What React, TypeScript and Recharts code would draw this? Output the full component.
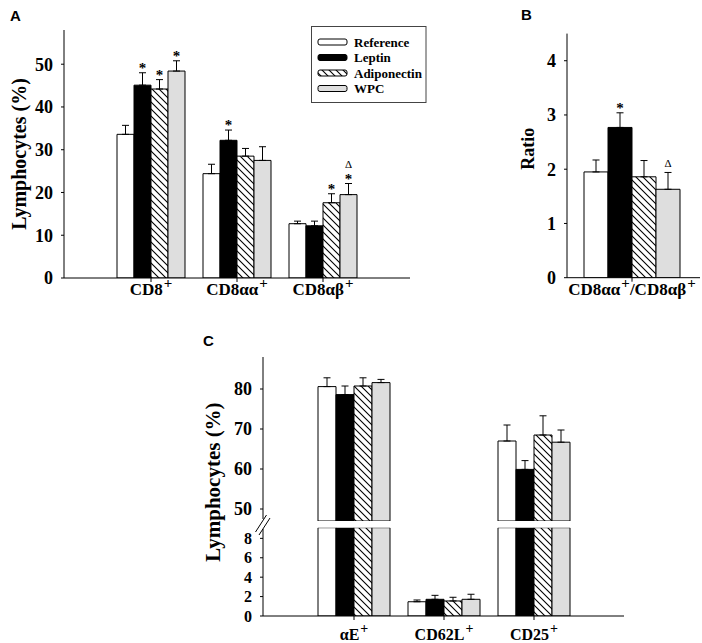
import { Fragment } from "react";
import { BarChart, Bar, XAxis, YAxis, ErrorBar, Rectangle, Label } from "recharts";

const SERIF = '"Liberation Serif", "Times New Roman", serif';
const SANS = '"Liberation Sans", Arial, sans-serif';

const seriesNames = ["Reference", "Leptin", "Adiponectin", "WPC"];
const seriesKeys = ["ref", "lep", "adi", "wpc"];
const seriesFills = ["#ffffff", "#000000", "url(#hatch)", "#dedede"];

// Panel A - CD8 subsets, % of lymphocytes
const categoriesA = ["CD8", "CD8αα", "CD8αβ"];
const referenceA = [33.6, 24.4, 12.7];
const leptinA = [45.1, 32.2, 12.2];
const adiponectinA = [44.2, 28.5, 17.6];
const wpcA = [48.4, 27.5, 19.5];
const referenceErrA = [2.1, 2.2, 0.6];
const leptinErrA = [2.9, 2.4, 1.1];
const adiponectinErrA = [2.2, 1.8, 2.1];
const wpcErrA = [2.4, 3.2, 2.6];
const leptinMarksA = ["*", "*", ""];
const adiponectinMarksA = ["*", "", "*"];
const wpcMarksA = ["*", "", "*Δ"];
const ticksA = [0, 10, 20, 30, 40, 50];

// Panel B - ratio
const categoriesB = ["CD8αα/CD8αβ"];
const referenceB = [1.95];
const leptinB = [2.77];
const adiponectinB = [1.86];
const wpcB = [1.63];
const referenceErrB = [0.22];
const leptinErrB = [0.27];
const adiponectinErrB = [0.3];
const wpcErrB = [0.31];
const leptinMarksB = ["*"];
const wpcMarksB = ["Δ"];
const ticksB = [0, 1, 2, 3, 4];

// Panel C - activation markers (broken axis)
const categoriesC = ["αE", "CD62L", "CD25"];
const referenceC = [80.6, 1.47, 67.0];
const leptinC = [78.6, 1.72, 59.9];
const adiponectinC = [80.75, 1.55, 68.5];
const wpcC = [81.6, 1.72, 66.7];
const referenceErrC = [2.2, 0.18, 4.0];
const leptinErrC = [2.15, 0.41, 2.2];
const adiponectinErrC = [2.05, 0.38, 4.8];
const wpcErrC = [0.8, 0.52, 3.05];
const ticksCUpper = [50, 60, 70, 80];
const ticksCLower = [0, 2, 4, 6, 8];
const C_HIGH_MIN = 47;
const C_HIGH_MAX = 88;
const C_LOW_MAX = 9.1;

type Series = { values: number[]; errs: number[]; marks?: string[] };

const buildRows = (cats: string[], series: Series[], keep: (v: number) => "full" | "clip" | "none" = () => "full", clipTo = 0) =>
  cats.map((cat, i) => {
    const row: Record<string, any> = { cat };
    series.forEach((s, j) => {
      const k = seriesKeys[j];
      const v = s.values[i];
      const mode = keep(v);
      row[k] = mode === "none" ? null : mode === "clip" ? clipTo : v;
      row[`${k}Err`] = mode === "full" ? [0, s.errs[i]] : null;
      row[`${k}E`] = s.errs[i];
      row[`${k}Mark`] = s.marks ? s.marks[i] : "";
    });
    return row;
  });

const rowsA = buildRows(categoriesA, [
  { values: referenceA, errs: referenceErrA },
  { values: leptinA, errs: leptinErrA, marks: leptinMarksA },
  { values: adiponectinA, errs: adiponectinErrA, marks: adiponectinMarksA },
  { values: wpcA, errs: wpcErrA, marks: wpcMarksA },
]);

const rowsB = buildRows(categoriesB, [
  { values: referenceB, errs: referenceErrB },
  { values: leptinB, errs: leptinErrB, marks: leptinMarksB },
  { values: adiponectinB, errs: adiponectinErrB },
  { values: wpcB, errs: wpcErrB, marks: wpcMarksB },
]);

const seriesC: Series[] = [
  { values: referenceC, errs: referenceErrC },
  { values: leptinC, errs: leptinErrC },
  { values: adiponectinC, errs: adiponectinErrC },
  { values: wpcC, errs: wpcErrC },
];
const rowsCUpper = buildRows(categoriesC, seriesC, (v) => (v >= C_HIGH_MIN ? "full" : "none"));
const rowsCLower = buildRows(categoriesC, seriesC, (v) => (v <= C_LOW_MAX ? "full" : "clip"), C_LOW_MAX);

// bar rect + significance marks above the error bar
const makeShape = (key: string) => (props: any) => {
  const { x, y, width, height, payload, fill } = props;
  if (!(height > 0) || !Number.isFinite(y)) return null;
  const v = payload[key];
  const mark: string = payload[`${key}Mark`] || "";
  const errTop = y - (payload[`${key}E`] * height) / v;
  const cx = x + width / 2;
  return (
    <g>
      <Rectangle x={x} y={y} width={width} height={height} fill={fill} stroke="#000" strokeWidth={1} />
      {mark.includes("*") && (
        <text x={cx} y={errTop} textAnchor="middle" fontFamily={SERIF} fontWeight="bold" fontSize={15} fill="#000">*</text>
      )}
      {mark.includes("Δ") && (
        <text x={cx} y={errTop - (mark.includes("*") ? 16 : 5)} textAnchor="middle" fontFamily={SERIF} fontSize={11} fill="#000">Δ</text>
      )}
    </g>
  );
};

const CategoryTick = (props: any) => {
  const { x, y, payload, lift = 11, labelSize = 17 } = props;
  const parts = String(payload.value).split("/");
  return (
    <text x={x} y={y + lift} textAnchor="middle" fontFamily={SERIF} fontWeight="bold" fontSize={labelSize} fill="#000">
      {parts.map((p, i) => (
        <Fragment key={i}>
          <tspan dy={i === 0 ? 0 : 7}>{(i > 0 ? "/" : "") + p}</tspan>
          <tspan dy={-7} dx={1} fontSize={labelSize - 2}>+</tspan>
        </Fragment>
      ))}
    </text>
  );
};

const ValueTick = (props: any) => {
  const { x, y, payload, labelSize = 18 } = props;
  return (
    <text x={x} y={y} dy="0.35em" textAnchor="end" fontFamily={SERIF} fontWeight="bold" fontSize={labelSize} fill="#000">
      {payload.value}
    </text>
  );
};

const axisTitle = (text: string, x: number, size: number, shift = 0) => (props: any) => {
  const vb = props.viewBox;
  const cy = vb.y + vb.height / 2 + shift;
  return (
    <text x={x} y={cy} transform={`rotate(-90 ${x} ${cy})`} textAnchor="middle" dominantBaseline="central"
      fontFamily={SERIF} fontWeight="bold" fontSize={size} fill="#000">{text}</text>
  );
};

const black = { stroke: "#000" };

const renderBars = (barSize: number) =>
  seriesKeys.map((k, i) => (
    <Bar key={k} dataKey={k} name={seriesNames[i]} fill={seriesFills[i]} barSize={barSize}
      shape={makeShape(k)} isAnimationActive={false}>
      <ErrorBar dataKey={`${k}Err`} width={3.5} stroke="#000" strokeWidth={1} direction="y" />
    </Bar>
  ));

const legendRows = [42, 57.5, 73, 88.5];

export default function App() {
  return (
    <div style={{ position: "absolute", left: 0, top: 0, width: 702, height: 643, background: "#fff" }}>
      <svg width={0} height={0} style={{ position: "absolute" }}>
        <defs>
          <pattern id="hatch" patternUnits="userSpaceOnUse" width={7} height={7}>
            <rect width={7} height={7} fill="#fff" />
            <path d="M-1,-1 L8,8 M-1,6 L1,8 M6,-1 L8,1" stroke="#000" strokeWidth={1.1} />
          </pattern>
        </defs>
      </svg>

      {/* Panel A */}
      <div style={{ position: "absolute", left: 0, top: 0 }}>
        <BarChart width={420} height={320} data={rowsA} barGap={0} margin={{ top: 30, right: 10, left: 0, bottom: 12 }}>
          <XAxis dataKey="cat" height={30} padding={{ left: 44, right: 44 }} axisLine={black} tickLine={black}
            tickSize={4} tick={<CategoryTick lift={11} labelSize={17} />} interval={0} />
          <YAxis domain={[0, 58]} ticks={ticksA} width={64} allowDataOverflow axisLine={black} tickLine={black}
            tickSize={3} tickMargin={8} tick={<ValueTick labelSize={18} />} interval={0}>
            <Label content={axisTitle("Lymphocytes (%)", 19, 20)} />
          </YAxis>
          {renderBars(17)}
        </BarChart>
      </div>

      {/* Panel B */}
      <div style={{ position: "absolute", left: 480, top: 0 }}>
        <BarChart width={222} height={320} data={rowsB} barGap={0} margin={{ top: 33.6, right: 2, left: 0, bottom: 12.3 }}>
          <XAxis dataKey="cat" height={30} padding={{ left: 15, right: 18 }} axisLine={black} tickLine={black}
            tickSize={4} tick={<CategoryTick lift={11} labelSize={17} />} interval={0} />
          <YAxis domain={[0, 4.5]} ticks={ticksB} width={87} allowDataOverflow axisLine={black} tickLine={black}
            tickSize={3} tickMargin={8} tick={<ValueTick labelSize={18} />} interval={0}>
            <Label content={axisTitle("Ratio", 48, 18, -7)} />
          </YAxis>
          {renderBars(24)}
        </BarChart>
      </div>

      {/* Panel C, upper segment */}
      <div style={{ position: "absolute", left: 190, top: 320 }}>
        <BarChart width={436} height={210} data={rowsCUpper} barGap={0} margin={{ top: 37, right: 2, left: 0, bottom: 9 }}>
          <XAxis dataKey="cat" hide height={0} padding={{ left: 46, right: 45 }} />
          <YAxis domain={[C_HIGH_MIN, C_HIGH_MAX]} ticks={ticksCUpper} width={73} allowDataOverflow axisLine={black}
            tickLine={black} tickSize={3} tickMargin={8} tick={<ValueTick labelSize={18} />} interval={0} />
          {renderBars(18)}
        </BarChart>
      </div>

      {/* Panel C, lower segment */}
      <div style={{ position: "absolute", left: 190, top: 520 }}>
        <BarChart width={436} height={123} data={rowsCLower} barGap={0} margin={{ top: 7.7, right: 2, left: 0, bottom: 2 }}>
          <XAxis dataKey="cat" height={25} padding={{ left: 46, right: 45 }} axisLine={black} tickLine={black}
            tickSize={4} tick={<CategoryTick lift={18} labelSize={16} />} interval={0} />
          <YAxis domain={[0, C_LOW_MAX]} ticks={ticksCLower} width={73} allowDataOverflow axisLine={black}
            tickLine={black} tickSize={3} tickMargin={8} tick={<ValueTick labelSize={16} />} interval={0} />
          {renderBars(18)}
        </BarChart>
      </div>

      {/* decorations: panel letters, legend, axis break, C title */}
      <svg width={702} height={643} style={{ position: "absolute", left: 0, top: 0, pointerEvents: "none" }}>
        <text x={10} y={21} fontFamily={SANS} fontWeight="bold" fontSize={15} fill="#000">A</text>
        <text x={521} y={20} fontFamily={SANS} fontWeight="bold" fontSize={15} fill="#000">B</text>
        <text x={203} y={346} fontFamily={SANS} fontWeight="bold" fontSize={15} fill="#000">C</text>

        <rect x={311.5} y={26.5} width={114.5} height={76} fill="#fff" stroke="#444" strokeWidth={1} />
        {seriesNames.map((name, i) => (
          <g key={name}>
            <rect x={318} y={legendRows[i] - 3} width={29} height={6} rx={2} fill={seriesFills[i]} stroke="#000" strokeWidth={1} />
            <text x={354} y={legendRows[i] + 4.5} fontFamily={SERIF} fontWeight="bold" fontSize={13} fill="#000">{name}</text>
          </g>
        ))}

        <rect x={258} y={519} width={10} height={10} fill="#fff" />
        <line x1={255.5} y1={532} x2={266.5} y2={515} stroke="#000" strokeWidth={1} />
        <line x1={259} y1={535} x2={270} y2={518} stroke="#000" strokeWidth={1} />

        <text x={213} y={482} transform="rotate(-90 213 482)" textAnchor="middle" dominantBaseline="central"
          fontFamily={SERIF} fontWeight="bold" fontSize={21} fill="#000">Lymphocytes (%)</text>
      </svg>
    </div>
  );
}
